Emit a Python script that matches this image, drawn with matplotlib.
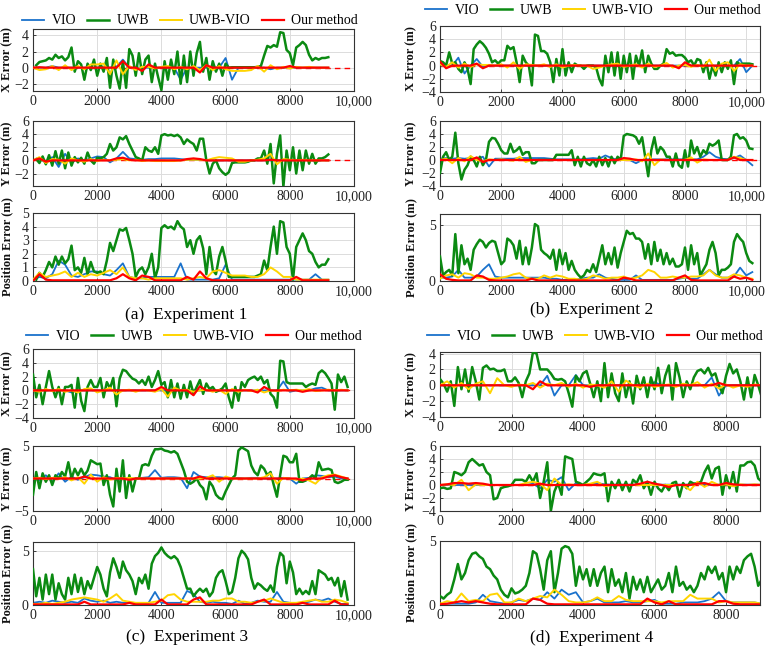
import numpy as np
import matplotlib
matplotlib.use('Agg')
import matplotlib.pyplot as plt
from matplotlib.ticker import FuncFormatter, FixedLocator

plt.rcParams['font.family'] = ['Liberation Serif', 'DejaVu Serif']
plt.rcParams['axes.unicode_minus'] = True

series_names = ['VIO', 'UWB', 'UWB-VIO', 'Our method']
series_colors = ['#1a72cc', '#0b8a12', '#ffd400', '#ff0000']
row_labels = ['X Error (m)', 'Y Error (m)', 'Position Error (m)']
captions = ['(a)  Experiment 1', '(b)  Experiment 2', '(c)  Experiment 3', '(d)  Experiment 4']
uwb_start = [100, 0, 0, 0]   # first sample of the UWB series per experiment
uwb_step = 100               # sample spacing of UWB series
other_step = 200             # sample spacing of VIO / UWB-VIO / Our method series

# ---------------- Experiment 1 ----------------
e1_x_uwb = [0.3, 0.7, 0.8, 0.9, 1.2, 1.0, 1.6, 1.2, 1.4, 0.9,
            1.3, 2.5, -0.5, 0.8, 0.4, -1.5, 0.5, -0.3, 1.0, -1.0,
            0.5, -0.5, 1.2, -2.5, 1.0, -1.0, -2.6, 0.8, -2.5, 2.3,
            1.5, -1.0, 1.8, -0.8, 1.0, 1.5, -1.8, 0.5, -1.2, -2.8,
            0.8, -1.5, 1.0, -0.8, 2.0, -2.0, 1.5, -1.8, 2.0, -1.0,
            1.8, 3.2, -0.5, 1.2, -1.5, 0.8, -0.5, 0.5, -1.0, 0.5,
            0.0, 0.05, 0.05, 0.05, 0.05, 0.05, 0.05, 0.05, 0.05, 0.1,
            0.2, 1.5, 2.7, 2.5, 2.8, 2.6, 4.4, 4.3, 2.2, 1.8,
            0.3, 2.5, 2.8, 3.2, 2.8, 1.6, 0.9, 1.2, 1.0, 1.2,
            1.2, 1.3]
e1_x_vio = [0.0, 0.0, 0.0, 0.2, 0.0, 0.0, 0.0, 0.0, 0.0, 0.0,
            0.0, 0.0, 0.0, 0.1, 1.0, 0.0, 0.0, 0.0, 0.0, 0.0,
            0.0, 0.0, 0.0, -1.5, 0.0, 0.0, 0.0, 0.0, 0.0, 0.0,
            1.2, -1.5, 0.0, 0.0, 0.0, 0.0, 0.0, -0.2, 0.0, 0.0,
            0.0, 0.0, 0.0, 0.0, 0.0, 0.0, 0.0]
e1_x_uv = [0.0, -0.3, -0.2, 0.2, -0.3, 0.3, -0.3, 0.2, -0.2, 0.4,
           0.4, 0.5, -0.8, 0.9, -0.8, 0.2, -0.3, 0.1, 0.1, -0.1,
           0.1, 0.2, -0.2, 0.1, -0.2, 0.2, -0.3, 0.3, -0.3, 0.2,
           -0.2, -0.4, -0.4, -0.4, -0.3, 0.2, -0.5, 0.3, -0.2, 0.1,
           -0.1, 0.1, 0.0, 0.1, 0.0, 0.0, 0.0]
e1_x_our = [0.0, 0.05, 0.0, 0.0, 0.0, 0.0, 0.0, 0.0, 0.0, 0.0,
            0.0, 0.0, 0.0, 0.0, 0.8, 0.0, 0.0, -0.4, 0.4, 0.0,
            0.0, 0.0, 0.0, 0.0, 0.0, 0.0, -0.6, 0.3, 0.0, 0.0,
            0.0, 0.0, 0.0, 0.0, 0.0, 0.0, 0.0, 0.0, 0.0, 0.0,
            0.2, 0.0, 0.0, 0.0, 0.0, 0.0, 0.0]
e1_y_uwb = [0.2, -0.4, 0.6, -0.6, 0.8, -0.8, 1.4, -0.5, 1.5, -1.2,
            1.2, -0.8, 0.5, -0.3, 0.4, -0.5, 1.2, 0.0, -0.5, 0.4,
            0.3, 0.5, 1.0, 2.5, 1.5, 2.0, 3.5, 3.2, 3.7, 2.5,
            1.5, 0.5, 0.3, 0.0, 2.0, 1.5, 1.3, 2.0, 1.0, 3.8,
            4.0, 3.8, 3.9, 3.7, 3.9, 3.5, 2.5, 3.2, 2.8, 2.5,
            1.5, 3.3, 3.3, 0.0, -2.0, -0.5, 0.0, -1.2, -1.8, -2.2,
            -1.8, -0.4, -0.3, -0.3, -0.3, -0.3, -0.2, 0.0, 0.0, 0.3,
            0.3, 1.5, -0.5, 2.5, -3.5, 1.0, 3.8, -4.0, 1.5, -1.5,
            2.0, -2.0, 1.5, -1.5, 1.5, -0.5, 1.0, -0.5, 0.3, 0.3,
            0.5, 0.9]
e1_y_vio = [0.0, 0.2, -0.3, 0.5, -1.0, 1.0, -0.4, 0.3, 0.0, 0.3,
            0.6, 0.5, -0.3, 0.3, 1.3, 0.3, 0.2, 0.1, 0.2, 0.2,
            0.3, 0.3, 0.3, 0.2, 0.1, 0.1, 0.1, 0.0, 0.0, 0.0,
            0.0, 0.0, 0.0, 0.0, 0.0, 0.0, 0.0, 0.0, 0.0, 0.0,
            0.0, 0.0, 0.0, 0.1, -0.2, 0.0, 0.0]
e1_y_uv = [0.0, 0.5, -0.4, 0.2, 0.1, -0.5, 0.3, 0.0, -0.2, 0.2,
           -0.1, 0.1, 0.0, 0.1, 0.2, 0.0, 0.1, -0.1, 0.0, -0.1,
           -0.1, -0.1, -0.1, 0.0, 0.1, 0.1, 0.1, 0.0, 0.3, 0.5,
           0.4, 0.3, -0.2, -0.2, 0.0, 0.1, 0.3, 1.0, -0.6, 0.2,
           0.1, 0.0, 0.1, 0.0, 0.0, 0.0, 0.0]
e1_y_our = [0.0, 0.3, -0.2, 0.0, 0.0, 0.0, 0.0, 0.0, 0.0, 0.0,
            0.0, 0.0, 0.0, 0.3, 0.4, 0.1, 0.0, 0.0, 0.0, 0.0,
            0.0, 0.0, 0.0, 0.0, 0.2, 0.3, 0.2, 0.0, 0.0, 0.0,
            0.0, 0.0, 0.0, 0.0, 0.0, 0.0, 0.0, 0.1, 0.0, 0.0,
            0.0, 0.0, 0.0, 0.0, 0.0, 0.0, 0.0]
e1_p_uwb = [0.1, 0.6, 0.3, 0.8, 1.4, 1.0, 1.8, 1.2, 1.8, 1.3,
            1.6, 2.6, 0.8, 1.0, 0.6, 1.7, 0.5, 1.4, 0.7, 0.6,
            0.7, 0.5, 1.5, 2.8, 2.2, 3.0, 3.8, 3.7, 3.9, 3.0,
            2.0, 0.3, 0.8, 1.0, 0.5, 1.0, 2.0, 0.2, 1.0, 3.9,
            4.1, 3.9, 4.0, 3.8, 4.4, 4.0, 3.8, 2.5, 3.0, 2.0,
            3.0, 3.3, 2.4, 0.5, 2.5, 0.8, 0.5, 1.8, 2.5, 1.5,
            0.3, 0.3, 0.3, 0.3, 0.3, 0.3, 0.3, 0.3, 0.3, 0.4,
            0.5, 1.5, 0.8, 2.5, 4.0, 2.0, 4.4, 4.3, 2.5, 2.0,
            0.1, 2.5, 3.0, 3.5, 3.0, 2.2, 2.0, 1.4, 1.0, 1.2,
            1.2, 1.6]
e1_p_vio = [0.1, 0.3, 0.2, 0.5, 1.5, 1.2, 0.4, 0.3, 0.5, 0.7,
            0.7, 0.5, 0.4, 0.8, 1.3, 0.3, 0.2, 0.2, 0.3, 0.3,
            0.3, 0.3, 0.3, 1.3, 0.1, 0.1, 0.1, 0.1, 0.1, 0.2,
            1.2, 0.1, 0.1, 0.1, 0.1, 0.1, 0.1, 0.1, 0.1, 0.1,
            0.1, 0.1, 0.1, 0.1, 0.5, 0.1, 0.1]
e1_p_uv = [0.1, 0.6, 0.3, 0.4, 0.5, 0.7, 0.3, 0.6, 0.3, 0.5,
           0.4, 0.6, 0.8, 0.5, 1.0, 0.3, 0.2, 0.2, 0.1, 0.2,
           0.2, 0.2, 0.2, 0.2, 0.1, 0.2, 0.3, 0.2, 0.7, 0.8,
           0.6, 0.4, 0.4, 0.4, 0.3, 0.3, 0.5, 1.0, 0.7, 0.3,
           0.3, 0.1, 0.1, 0.1, 0.1, 0.1, 0.1]
e1_p_our = [0.0, 0.5, 0.1, 0.05, 0.05, 0.05, 0.05, 0.05, 0.05, 0.05,
            0.05, 0.05, 0.05, 0.2, 0.5, 0.2, 0.05, 0.4, 0.3, 0.05,
            0.05, 0.05, 0.05, 0.05, 0.3, 0.1, 0.7, 0.2, 0.05, 0.05,
            0.05, 0.05, 0.05, 0.05, 0.05, 0.05, 0.05, 0.05, 0.05, 0.05,
            0.05, 0.3, 0.05, 0.05, 0.05, 0.05, 0.05]

# ---------------- Experiment 2 ----------------
e2_x_uwb = [0.7, 0.5, 0.0, 2.0, 0.3, 0.5, -0.5, -1.0, 0.5, -0.5,
            -2.8, 2.5, 3.2, 3.7, 3.3, 2.7, 1.8, 0.5, 0.8, 0.3,
            0.8, 0.8, 3.0, 2.5, 2.8, 0.5, -2.5, 1.5, 0.5, 0.0,
            -3.0, 4.7, 4.5, 2.2, 2.2, 1.8, 0.5, -2.5, 1.0, -1.5,
            2.5, -1.5, 0.5, -1.0, 0.3, 0.0, 0.0, -0.5, 0.0, 0.0,
            0.0, -0.3, -2.0, -3.0, 1.5, -1.0, 2.0, -1.5, 2.0, -2.0,
            1.5, -1.0, 1.8, -2.0, 1.5, 0.0, 2.3, -1.0, 1.5, 0.3,
            -0.5, -0.5, 0.0, 0.3, 2.5, 1.8, 2.0, 1.5, 1.6, 1.6,
            1.2, 0.5, 0.8, 0.0, 1.0, 0.8, -1.0, 0.5, -2.0, 0.0,
            -1.5, 0.5, -1.0, 0.5, -0.5, 0.8, -2.8, 0.5, 0.2, 0.3,
            0.3, 0.3, 0.2]
e2_x_vio = [0.0, 0.0, 0.0, 1.2, -1.2, 0.0, 1.0, -0.2, 0.0, 0.0,
            0.0, 0.0, 0.0, 0.0, 0.0, 0.0, 0.0, 0.0, 0.0, 0.0,
            0.0, 0.0, 0.0, 0.0, 0.0, 0.0, 0.0, 0.0, 0.0, 0.0,
            0.0, 0.0, 0.0, 0.0, 0.0, 0.0, 0.0, 0.0, 0.0, 0.0,
            0.0, 0.0, 0.0, 0.0, 0.0, 0.0, 0.0, 0.0, 0.0, 1.0,
            -1.0, 0.0]
e2_x_uv = [0.2, -0.2, 0.5, -0.3, 0.3, -0.2, 0.2, 0.1, 0.1, 0.0,
           0.2, -0.3, 0.5, -0.5, 0.2, 0.1, 0.0, 0.2, -0.2, 0.2,
           -0.3, 0.0, 0.1, 0.0, 0.0, -0.5, -0.3, 0.0, 0.2, 0.3,
           -0.2, 0.0, 0.2, -0.3, 0.3, -0.2, 0.0, 0.4, -0.3, 0.0,
           0.1, -0.2, 0.1, -0.2, 0.9, -0.8, 0.3, 0.5, -0.8, 0.2,
           0.0, 0.0]
e2_x_our = [0.6, -0.4, 0.0, 0.0, 0.0, 0.0, 0.3, -0.4, 0.0, 0.0,
            0.0, 0.0, 0.0, 0.0, 0.0, 0.0, 0.0, 0.0, 0.0, 0.0,
            0.0, 0.0, 0.0, 0.0, 0.0, 0.0, 0.0, 0.0, 0.0, 0.0,
            0.0, 0.0, 0.0, 0.0, 0.0, 0.0, 0.0, 0.0, 0.0, -0.4,
            0.5, 0.0, 0.0, 0.0, 0.0, 0.0, 0.0, 0.0, 0.0, 0.0,
            0.0, 0.0]
e2_y_uwb = [-2.0, 0.5, 1.2, 0.0, 0.5, 4.2, -0.5, -3.0, -1.5, -0.8,
            0.5, 0.0, -1.0, 0.5, -0.8, 0.0, 2.8, 3.4, 3.3, 2.5,
            1.5, 1.0, 1.0, 2.5, 1.2, 1.5, 2.0, 0.8, 1.2, 1.2,
            -0.5, -0.5, 0.0, 0.0, 0.0, 0.0, 0.0, 0.0, 0.8, 0.8,
            0.8, 0.8, 0.8, 1.5, -0.8, 0.5, -1.0, 0.5, -0.5, -0.8,
            0.0, -1.0, 0.5, -0.8, 0.3, -1.0, 0.5, -0.5, 0.5, 0.0,
            3.7, 4.0, 3.9, 3.8, 3.5, 2.5, 3.5, 0.5, -2.5, 1.5,
            3.5, 1.0, 2.0, 1.5, 0.5, 0.5, -1.0, 1.0, -0.8, -1.2,
            1.5, -1.0, 3.0, 1.0, 2.0, 0.5, 1.5, 1.0, 2.5, 2.2,
            2.5, 3.0, 0.0, 0.0, 0.0, 0.5, 3.8, 4.0, 3.3, 3.5,
            3.0, 1.8, 1.7]
e2_y_vio = [0.2, 0.3, 0.2, 0.3, 0.2, 0.3, 0.2, 0.5, -1.0, 0.2,
            0.2, 0.2, 0.2, 0.3, 0.3, 0.3, 0.3, 0.3, 0.2, 0.1,
            0.1, 0.1, 0.1, 0.1, 0.2, 0.3, 0.2, 0.7, 0.3, 0.0,
            0.0, 0.0, -0.5, 0.0, 0.1, 0.1, 0.1, 0.1, 0.1, 0.1,
            0.1, 0.1, 0.1, 0.5, 1.2, 0.5, 0.2, 0.1, 0.3, 0.7,
            0.0, -0.8]
e2_y_uv = [0.0, 0.2, -0.5, 0.3, -0.2, 0.6, 0.0, -0.2, 0.1, 0.0,
           0.1, 0.0, -0.1, 0.5, -0.3, 0.0, 0.0, 0.0, 0.0, 0.0,
           0.0, 0.0, 0.0, 0.0, 0.0, 0.0, 0.0, 0.0, 0.0, 0.0,
           0.0, 0.0, 0.1, -0.2, 1.0, -0.8, 0.1, 0.0, 0.0, 0.0,
           0.0, 0.4, -0.4, 0.1, 0.0, 0.0, 0.0, 0.0, 0.5, 0.3,
           0.0, 0.0]
e2_y_our = [0.0, 0.0, 0.0, 0.0, 0.0, 0.0, 0.4, -0.3, 0.0, 0.0,
            0.0, 0.0, 0.0, 0.0, 0.0, 0.0, 0.0, 0.0, 0.0, 0.0,
            0.0, 0.0, 0.0, 0.0, 0.0, 0.0, 0.0, 0.0, 0.0, 0.0,
            0.3, 0.2, 0.0, 0.0, 0.0, 0.0, 0.0, 0.0, 0.0, 0.0,
            0.0, 0.0, 0.0, 0.0, 0.0, 0.0, 0.0, 0.0, 0.4, 0.0,
            0.0, 0.0]
e2_p_uwb = [2.2, 0.5, 0.8, 1.0, 0.5, 4.2, 0.7, 3.2, 1.5, 2.0,
            1.0, 2.8, 3.3, 3.7, 3.5, 3.0, 3.4, 3.6, 3.5, 2.5,
            1.5, 1.8, 3.8, 3.6, 3.2, 2.0, 3.6, 1.5, 3.0, 1.5,
            3.0, 5.1, 4.9, 2.8, 2.5, 2.3, 2.0, 2.8, 1.0, 2.8,
            1.5, 2.5, 1.0, 1.8, 1.0, 0.6, 0.3, 0.5, 1.0, 0.8,
            1.5, 0.8, 2.0, 3.2, 1.5, 2.5, 1.5, 3.0, 1.2, 2.5,
            3.5, 4.5, 4.2, 4.3, 3.8, 3.8, 3.5, 2.0, 3.3, 1.5,
            3.5, 1.8, 2.8, 1.5, 2.5, 1.5, 2.0, 1.3, 1.3, 1.5,
            3.0, 1.0, 3.2, 1.5, 2.5, 0.5, 1.0, 1.5, 2.8, 3.5,
            2.5, 0.5, 1.0, 1.0, 1.2, 1.5, 3.5, 4.2, 3.8, 3.5,
            2.5, 1.8, 1.6]
e2_p_vio = [0.3, 0.3, 0.4, 1.0, 0.3, 0.3, 0.4, 1.0, 1.5, 0.4,
            0.3, 0.3, 0.3, 0.3, 0.3, 0.3, 0.3, 0.3, 0.2, 0.2,
            0.1, 0.1, 0.1, 0.2, 0.3, 0.3, 0.6, 0.3, 0.2, 0.1,
            0.1, 0.1, 0.5, 0.1, 0.1, 0.1, 0.1, 0.1, 0.1, 0.2,
            0.3, 0.2, 0.2, 0.6, 1.0, 0.6, 0.3, 0.3, 0.4, 1.2,
            0.5, 0.8]
e2_p_uv = [0.2, 0.5, 0.6, 0.3, 0.7, 0.6, 0.3, 0.3, 0.2, 0.2,
           0.3, 0.4, 0.6, 0.7, 0.3, 0.2, 0.2, 0.5, 0.3, 0.5,
           0.4, 0.2, 0.2, 0.1, 0.2, 0.5, 0.4, 0.2, 0.3, 0.3,
           0.4, 0.2, 0.3, 0.5, 1.0, 0.8, 0.3, 0.3, 0.4, 0.3,
           0.3, 0.4, 0.4, 0.5, 1.0, 0.5, 0.3, 0.3, 0.6, 0.5,
           0.3, 0.2]
e2_p_our = [0.6, 0.2, 0.1, 0.05, 0.05, 0.05, 0.5, 0.4, 0.1, 0.05,
            0.05, 0.05, 0.05, 0.05, 0.05, 0.2, 0.05, 0.05, 0.05, 0.05,
            0.05, 0.05, 0.05, 0.05, 0.05, 0.05, 0.05, 0.05, 0.05, 0.05,
            0.3, 0.2, 0.05, 0.05, 0.05, 0.05, 0.05, 0.05, 0.05, 0.3,
            0.5, 0.1, 0.05, 0.05, 0.05, 0.05, 0.05, 0.05, 0.4, 0.2,
            0.3, 0.1]

# ---------------- Experiment 3 ----------------
e3_x_uwb = [2.3, -1.0, 0.8, -2.0, 0.5, 2.8, 0.5, -1.0, 0.5, -2.0,
            0.5, 0.5, 0.8, -2.5, 1.8, -1.5, -3.0, 0.5, 1.5, 0.5,
            0.5, 1.8, -1.0, 1.2, 0.3, 1.8, -2.3, 1.7, 3.0, 2.8,
            2.2, 1.7, 1.5, 1.0, 1.5, 0.8, 2.0, 0.5, 1.5, 2.8,
            0.8, 1.2, -1.0, 1.5, -1.0, 1.0, -1.2, 0.8, -1.0, 1.3,
            -0.5, 0.5, 1.5, -0.5, 1.0, 0.2, 0.5, -0.2, 0.0, 0.3,
            1.0, -1.0, -2.5, 0.5, -1.5, 1.2, 0.5, 1.5, 1.8, 2.0,
            1.5, 2.0, 1.0, 1.5, -0.5, -1.0, -2.5, 4.3, 4.2, 1.2,
            1.0, 1.0, 1.0, 1.0, 1.0, 0.5, 0.8, 1.0, 0.8, 2.5,
            2.9, 2.5, 1.8, 1.0, -2.8, 2.3, 1.2, 2.0, 0.5]
e3_x_vio = [0.0, 0.0, 0.0, 0.0, 0.0, 0.0, -0.3, 0.0, 0.0, 0.0,
            0.0, 0.0, 0.0, 0.0, 0.0, 0.0, 0.0, 0.0, 0.0, 0.0,
            0.0, 0.0, 0.0, 0.0, 0.0, 0.0, 0.0, 0.0, 0.0, 0.0,
            0.0, 0.0, 0.0, 0.0, 0.0, 0.0, 0.0, 0.0, 0.0, 1.3,
            -0.2, 0.0, 0.0, 0.0, 0.3, 0.4, 0.0, 0.0, 0.0, 0.0]
e3_x_uv = [0.0, -0.2, 0.2, -0.1, 0.2, -0.2, 0.0, -0.3, 0.2, 0.3,
           -0.3, 0.0, 0.4, -0.6, 0.0, 0.1, -0.2, 0.1, 0.0, -0.2,
           0.2, -0.9, 0.4, 0.0, 0.1, -0.2, 0.0, 0.1, -0.2, 0.1,
           -0.5, 0.2, -0.2, 0.1, -0.1, 0.1, -0.3, 0.0, -0.1, 0.1,
           0.0, 0.1, 0.0, 0.2, -0.1, 0.0, 0.1, 0.0, 0.1, 0.0]
e3_x_our = [0.0, 0.0, 0.0, 0.0, 0.0, 0.0, 0.0, 0.0, 0.0, 0.0,
            0.0, 0.0, 0.0, 0.0, 0.0, 0.0, 0.0, 0.0, 0.0, 0.0,
            0.5, 0.0, 0.0, 0.0, 0.0, -0.7, 0.6, 0.0, 0.0, 0.0,
            0.0, 0.0, 0.0, 0.0, 0.0, -0.3, 0.5, 0.0, 0.0, 0.0,
            0.0, 0.0, -0.2, 0.0, 0.0, 0.0, 0.0, 0.0, 0.0, 0.0]
e3_y_uwb = [-2.5, 1.0, -1.5, 0.8, -0.5, 0.5, -1.0, 0.5, 0.0, 1.0,
            0.3, 2.5, 0.0, 1.5, 0.5, 1.5, 0.5, 1.2, 2.8, 2.5,
            2.2, 2.3, -1.0, 0.5, -2.5, -4.3, 1.5, -2.0, 2.8, -3.0,
            0.5, -2.0, 0.0, 0.0, 2.0, 2.2, 2.0, 3.5, 4.5, 4.5,
            4.6, 4.3, 4.2, 4.0, 4.2, 3.8, 2.5, 1.2, -0.5, -0.8,
            -0.5, 0.0, -1.0, -1.5, -3.2, -0.5, -1.2, -2.5, -3.0, -3.2,
            -2.0, -1.0, 0.0, 0.5, 4.3, 4.8, 4.5, 4.2, 2.0, 1.0,
            0.5, 2.0, 1.5, 0.5, 1.0, -1.0, -2.8, 0.5, 3.5, 3.3,
            2.5, 2.5, 3.8, -0.5, -0.5, -0.3, 0.0, 0.5, 0.0, 2.5,
            1.3, 1.4, 1.5, 1.3, -0.5, -0.7, -0.5, -0.2, -0.2]
e3_y_vio = [0.2, -0.3, 0.5, -0.5, 0.8, -0.5, 0.3, -0.2, 0.2, 0.6,
            0.5, 0.3, 0.2, -0.2, 0.0, 0.0, 0.0, 0.1, 0.2, 1.3,
            0.1, 0.2, 0.2, 0.1, -1.5, 1.0, 0.3, 0.2, 0.2, 0.2,
            0.1, 0.0, 0.1, 0.0, 0.1, 0.1, 0.0, 0.0, 0.0, 0.1,
            0.0, -0.8, 0.0, 0.1, 0.5, 0.4, 0.2, 0.3, 0.0, 0.0]
e3_y_uv = [0.0, 0.1, -0.1, 0.1, 0.0, 0.2, -0.3, 0.2, -0.8, 0.6,
           -0.5, 0.2, -0.2, 0.1, 0.0, 0.1, 0.0, 0.0, 0.0, 0.0,
           0.0, 0.0, 0.0, 0.0, 0.0, 0.0, 0.0, 0.1, 0.5, -0.5,
           0.3, 0.0, 0.0, 0.0, 0.0, 0.0, 0.2, 0.8, -0.8, 0.1,
           0.0, -0.2, 0.0, -0.3, -0.8, 0.2, 0.5, 0.6, 0.3, 0.0]
e3_y_our = [0.0, 0.0, 0.0, 0.0, 0.0, 0.0, 0.0, 0.0, 0.3, 0.0,
            0.0, 0.0, 0.0, 0.0, 0.0, -0.2, 0.0, 0.0, 0.0, 0.0,
            0.0, 0.0, 0.0, 0.0, 0.0, 0.0, 0.3, 0.0, 0.0, 0.0,
            0.0, 0.0, 0.0, 0.0, 0.0, 0.0, 0.0, 0.0, 0.0, 0.0,
            0.0, 0.0, -0.3, 0.0, 0.0, 0.0, 0.3, 0.5, 0.2, 0.0]
e3_p_uwb = [3.3, 0.8, 2.5, 0.5, 2.8, 1.0, 2.8, 0.5, 2.0, 1.0,
            0.5, 2.5, 1.0, 2.8, 1.2, 2.5, 1.0, 2.2, 1.5, 2.5,
            3.5, 2.8, 1.5, 0.8, 3.0, 4.3, 3.5, 2.5, 4.0, 3.2,
            2.8, 2.2, 1.0, 2.5, 2.0, 2.8, 1.5, 3.8, 4.5, 4.8,
            5.3, 4.8, 4.5, 4.3, 4.5, 4.2, 3.5, 2.5, 1.5, 1.5,
            0.8, 1.2, 1.5, 1.2, 1.5, 0.8, 1.2, 2.5, 3.0, 3.2,
            2.2, 1.0, 1.2, 2.5, 4.3, 5.0, 4.7, 4.2, 2.5, 1.5,
            2.0, 1.8, 1.5, 1.3, 1.8, 1.2, 3.5, 4.8, 4.5, 2.0,
            4.0, 3.0, 1.0, 1.5, 1.0, 1.3, 1.0, 2.2, 1.0, 3.2,
            3.0, 2.8, 2.3, 2.5, 1.8, 2.5, 0.8, 2.2, 0.5]
e3_p_vio = [0.2, 0.3, 0.2, 0.4, 0.3, 0.2, 0.3, 0.2, 0.6, 0.4,
            0.3, 0.4, 0.2, 0.3, 0.2, 0.2, 0.1, 0.1, 0.2, 1.2,
            0.2, 0.2, 0.2, 0.2, 1.3, 1.0, 0.3, 0.2, 0.3, 0.2,
            0.2, 0.1, 0.4, 0.1, 0.2, 0.4, 0.3, 0.3, 1.2, 0.3,
            0.2, 0.1, 0.2, 0.3, 0.5, 0.4, 0.6, 0.3, 0.1, 0.1]
e3_p_uv = [0.1, 0.1, 0.2, 0.1, 0.2, 0.3, 0.5, 0.6, 0.7, 0.6,
           0.5, 0.3, 0.6, 1.0, 0.4, 0.3, 0.2, 0.2, 0.2, 0.3,
           0.4, 0.9, 1.0, 0.5, 0.3, 0.3, 0.3, 0.3, 0.4, 0.4,
           0.6, 0.6, 0.3, 0.3, 0.2, 0.3, 0.4, 0.6, 0.4, 0.2,
           0.2, 0.2, 0.3, 0.4, 0.5, 0.3, 0.3, 0.5, 0.4, 0.2]
e3_p_our = [0.05, 0.05, 0.05, 0.05, 0.05, 0.05, 0.05, 0.05, 0.3, 0.05,
            0.05, 0.05, 0.05, 0.05, 0.05, 0.2, 0.05, 0.05, 0.05, 0.05,
            0.5, 0.05, 0.05, 0.05, 0.05, 0.5, 0.7, 0.05, 0.05, 0.05,
            0.05, 0.05, 0.05, 0.05, 0.05, 0.3, 0.5, 0.05, 0.05, 0.05,
            0.05, 0.05, 0.2, 0.05, 0.05, 0.05, 0.05, 0.4, 0.05, 0.05]

# ---------------- Experiment 4 ----------------
e4_x_uwb = [0.8, 0.2, -0.8, 0.5, -2.6, 2.3, -0.5, 2.0, -0.8, 2.3,
            0.5, -1.8, 2.2, 2.5, 2.0, 2.1, 1.8, 1.8, 2.0, 0.5,
            0.5, 1.0, 0.3, -1.5, 0.5, 1.5, 4.2, 4.0, 2.0, 2.0,
            2.0, 1.5, 0.8, 0.7, 0.8, 0.5, -1.0, -2.7, 1.2, 0.5,
            1.5, 1.8, 0.2, -1.5, 0.5, -2.0, 2.8, -1.5, 1.5, -1.0,
            -2.0, 1.5, -1.5, 0.5, -2.3, 1.2, -0.5, 1.0, -1.5, 1.0,
            -0.5, 2.2, -1.0, 1.2, 2.5, -1.8, 2.8, 1.0, -1.5, 0.5,
            -0.5, 1.0, 1.8, 2.0, 1.5, 2.2, 1.2, 1.5, 0.0, -1.0,
            1.2, 2.7, 1.5, 2.0, 0.5, -1.8, 1.0, -1.5, 1.3, 0.0,
            -1.5]
e4_x_vio = [0.0, 0.0, 0.0, 0.0, 0.0, 0.0, 0.0, 0.0, 0.0, 0.0,
            0.0, 0.0, 0.0, 0.0, 0.0, 1.2, -1.3, 0.0, 0.0, 1.3,
            0.0, 0.0, 0.0, 0.0, 0.0, 0.0, 0.0, 0.0, 0.0, 0.0,
            0.4, 0.0, 0.0, 0.0, 0.0, 0.0, 0.0, 0.0, 1.0, -1.3,
            0.0, 0.0, 0.0, 0.0, 0.0, 0.0]
e4_x_uv = [0.0, 0.5, -0.3, 0.3, -0.5, 0.2, 0.5, -1.0, 0.9, 0.0,
           -0.2, 0.1, 0.0, 0.3, -0.3, 0.2, 0.0, 0.3, -0.2, 0.2,
           -0.3, 0.1, 0.0, -0.3, 0.5, -0.8, 0.6, 0.0, -0.3, 0.2,
           -0.2, 0.0, 0.1, -0.2, 0.2, 0.0, 0.4, -0.3, 0.2, -0.4,
           0.1, -0.3, 0.0, -0.2, 0.1, 0.0]
e4_x_our = [0.0, 0.0, 0.0, 0.0, 0.0, 0.0, 0.0, 0.0, 0.0, 0.0,
            0.0, 0.0, 0.0, -0.5, 0.5, 0.0, 0.0, 0.0, 0.0, 0.0,
            0.0, -0.2, 0.0, 0.0, 0.0, 0.0, 0.0, 0.0, 0.0, 0.0,
            0.0, 0.0, 0.0, 0.0, 0.0, 0.0, 0.0, 0.0, 0.0, 0.3,
            0.0, 0.0, 0.0, 0.0, 0.0, 0.0]
e4_y_uwb = [-0.5, -0.4, -0.6, -0.5, 2.0, 1.8, 1.5, 2.0, 3.5, 4.0,
            3.5, 3.0, 3.2, 2.0, 1.5, -2.2, -2.0, -0.5, -0.3, -0.2,
            0.0, 0.8, 0.8, 0.8, 0.5, 1.5, 0.5, 1.8, -2.0, 0.5,
            3.5, -4.0, -1.0, 0.3, -1.5, 4.4, 4.2, 4.0, 0.5, 0.3,
            0.0, 0.5, 1.0, 1.8, 1.6, 1.5, 1.8, -2.5, 0.5, -0.5,
            0.8, -0.8, 0.5, -1.0, 0.8, 0.3, 1.5, -0.5, 0.5, -1.5,
            0.5, -0.5, -1.0, 0.0, -0.8, 0.3, 0.5, -1.8, 0.3, -0.5,
            0.5, 0.2, 0.3, 0.5, 2.0, 3.0, 1.0, 2.5, 2.8, -1.5,
            1.5, -0.5, 2.0, -1.0, 3.0, 3.0, 3.5, 3.6, 3.0, 1.0,
            0.5]
e4_y_vio = [0.0, 0.0, 0.0, 0.0, 0.0, 0.0, 0.0, 0.0, 0.0, 0.0,
            0.0, 0.0, 0.0, 0.2, -0.5, 0.8, 0.5, 1.2, -0.8, 0.3,
            0.0, 0.1, 0.3, 0.1, 0.05, 0.05, 0.05, 0.05, 0.05, 0.05,
            0.05, 0.05, 0.05, 0.05, 0.05, 0.05, 0.3, 0.05, 0.05, 0.05,
            0.05, 0.05, 0.05, 0.05, 0.05, 0.05]
e4_y_uv = [0.0, 0.1, 0.0, 0.8, -0.8, 0.1, 0.0, 0.0, 0.0, 0.0,
           0.0, 0.0, 0.3, 0.5, 0.2, -0.8, 1.0, 0.0, 0.1, 0.0,
           0.0, 0.2, 0.5, -0.2, 0.0, 0.0, 0.0, 0.0, 0.0, 0.0,
           0.0, 0.0, 0.0, 0.0, 0.0, -0.8, 0.5, -0.3, 0.5, 0.0,
           0.1, -0.2, 0.1, 0.0, 0.1, 0.0]
e4_y_our = [0.0, 0.1, 0.3, 0.3, 0.2, 0.3, 0.2, 0.0, 0.0, 0.0,
            0.0, 0.0, 0.0, 0.0, 0.2, 0.0, 0.0, 0.0, 0.0, 0.0,
            0.0, 0.0, 0.0, 0.0, 0.0, 0.0, 0.0, 0.0, 0.2, 0.5,
            0.2, 0.0, -0.3, 0.0, 0.0, 0.0, 0.2, 0.3, 0.0, 0.0,
            0.3, 0.1, 0.0, 0.0, 0.0, 0.0]
e4_p_uwb = [0.7, 0.5, 0.8, 1.0, 2.0, 3.2, 2.0, 2.5, 3.5, 4.0,
            4.1, 3.8, 3.6, 3.0, 2.8, 2.3, 2.0, 1.2, 0.8, 0.6,
            1.3, 0.9, 1.0, 1.2, 1.5, 2.5, 4.2, 4.0, 2.8, 1.2,
            3.5, 4.2, 1.0, 2.5, 4.4, 4.6, 4.5, 4.0, 1.5, 3.0,
            2.0, 2.8, 1.5, 2.8, 1.5, 2.5, 3.0, 1.0, 2.8, 1.5,
            2.0, 1.0, 2.5, 0.5, 2.2, 1.2, 2.0, 1.0, 2.2, 1.0,
            1.5, 2.0, 1.2, 1.5, 2.5, 1.0, 3.0, 1.5, 1.8, 1.2,
            1.5, 1.0, 1.5, 2.5, 2.0, 3.0, 2.5, 3.0, 2.0, 2.5,
            1.0, 3.0, 2.0, 3.0, 2.5, 3.5, 3.8, 4.0, 3.0, 1.5,
            2.0]
e4_p_vio = [0.1, 0.1, 0.1, 0.1, 0.1, 0.2, 0.8, 0.3, 0.2, 0.1,
            0.2, 0.4, 0.3, 0.5, 0.4, 1.0, 0.5, 1.2, 0.8, 1.0,
            0.2, 0.3, 0.5, 0.2, 0.2, 0.2, 0.3, 0.2, 0.2, 0.3,
            0.4, 0.1, 0.1, 0.1, 0.2, 0.2, 0.2, 0.3, 0.5, 1.0,
            0.3, 0.2, 0.2, 0.2, 0.2, 0.1]
e4_p_uv = [0.1, 0.3, 0.2, 0.9, 0.3, 0.4, 0.3, 0.8, 0.9, 0.2,
           0.2, 0.5, 0.3, 0.5, 0.7, 0.6, 1.2, 0.8, 0.3, 0.2,
           0.2, 0.3, 0.6, 0.3, 0.3, 0.7, 0.4, 0.3, 0.3, 0.3,
           0.3, 0.2, 0.3, 0.3, 0.3, 0.8, 0.5, 0.5, 0.5, 0.2,
           0.3, 0.2, 0.2, 0.2, 0.2, 0.1]
e4_p_our = [0.05, 0.1, 0.2, 0.3, 0.2, 0.3, 0.2, 0.1, 0.05, 0.05,
            0.05, 0.05, 0.05, 0.5, 0.4, 0.1, 0.05, 0.05, 0.05, 0.05,
            0.05, 0.05, 0.05, 0.05, 0.05, 0.05, 0.05, 0.05, 0.05, 0.5,
            0.2, 0.05, 0.3, 0.05, 0.05, 0.05, 0.05, 0.05, 0.05, 0.3,
            0.3, 0.1, 0.05, 0.05, 0.05, 0.05]

panels = [
    [(e1_x_vio, e1_x_uwb, e1_x_uv, e1_x_our),
     (e1_y_vio, e1_y_uwb, e1_y_uv, e1_y_our),
     (e1_p_vio, e1_p_uwb, e1_p_uv, e1_p_our)],
    [(e2_x_vio, e2_x_uwb, e2_x_uv, e2_x_our),
     (e2_y_vio, e2_y_uwb, e2_y_uv, e2_y_our),
     (e2_p_vio, e2_p_uwb, e2_p_uv, e2_p_our)],
    [(e3_x_vio, e3_x_uwb, e3_x_uv, e3_x_our),
     (e3_y_vio, e3_y_uwb, e3_y_uv, e3_y_our),
     (e3_p_vio, e3_p_uwb, e3_p_uv, e3_p_our)],
    [(e4_x_vio, e4_x_uwb, e4_x_uv, e4_x_our),
     (e4_y_vio, e4_y_uwb, e4_y_uv, e4_y_our),
     (e4_p_vio, e4_p_uwb, e4_p_uv, e4_p_our)],
]

# ---------------- layout (pixels) ----------------
W, H = 768, 656
fig = plt.figure(figsize=(W / 100, H / 100), dpi=100)

col_lr = [(33, 354), (440, 760), (33, 354), (440, 760)]
rows_tb = [
    [(29, 91), (121, 186), (213, 281)],
    [(26, 92), (121, 186), (214, 281)],
    [(349, 418), (446, 511), (542, 605)],
    [(352, 417), (446, 511), (541, 605)],
]
xlims = [(0, 10000), (0, 10450), (0, 10000), (0, 8950)]
ylims = [
    [(-2.9, 4.8), (-3.9, 6), (0, 5)],
    [(-4, 6), (-4, 6), (0, 6)],
    [(-4, 6), (-5, 5), (0, 5.8)],
    [(-4, 4.2), (-4, 6), (0, 5)],
]
yticks = [
    [[-2, 0, 2, 4], [-2, 0, 2, 4, 6], [0, 1, 2, 3, 4, 5]],
    [[-4, -2, 0, 2, 4, 6], [-4, -2, 0, 2, 4, 6], [0, 5]],
    [[-4, -2, 0, 2, 4, 6], [-5, 0, 5], [0, 5]],
    [[-4, -2, 0, 2, 4], [-4, -2, 0, 2, 4, 6], [0, 5]],
]
xticks_all = [0, 2000, 4000, 6000, 8000, 10000]
legend_pos = [(190, 21), (593, 10), (194, 336), (595, 336)]
caption_pos = [(186, 315), (592, 310), (187, 637), (592, 638)]
lws = [1.3, 1.8, 1.4, 1.6]

xfmt = FuncFormatter(lambda v, p: f"{int(v):,}" if v >= 10000 else f"{int(v)}")

for e in range(4):
    l, r = col_lr[e]
    for k in range(3):
        t, b = rows_tb[e][k]
        ax = fig.add_axes([l / W, 1 - b / H, (r - l) / W, (b - t) / H])
        handles = []
        for s in range(4):
            vals = panels[e][k][s]
            if s == 1:
                tt = uwb_start[e] + uwb_step * np.arange(len(vals))
            else:
                tt = other_step * np.arange(len(vals))
            h, = ax.plot(tt, vals, color=series_colors[s], lw=lws[s],
                         label=series_names[s], zorder=2 + s)
            handles.append(h)
        if k < 2:
            ax.axhline(0, color='#ff0000', lw=1.0, ls=(0, (4, 3)), zorder=1.5)
        ax.set_xlim(*xlims[e])
        ax.set_ylim(*ylims[e][k])
        ax.xaxis.set_major_locator(FixedLocator([v for v in xticks_all if v <= xlims[e][1]]))
        ax.xaxis.set_major_formatter(xfmt)
        ax.set_yticks(yticks[e][k])
        ax.grid(True, color='#dcdcdc', lw=0.7, zorder=0)
        ax.set_axisbelow(True)
        for sp in ax.spines.values():
            sp.set_color('#333333')
            sp.set_linewidth(0.8)
        ax.tick_params(direction='in', length=2.5, width=0.6, labelsize=10,
                       colors='#222222', pad=3)
        ax.set_ylabel(row_labels[k], fontsize=9, fontweight='bold', color='#111111')
        ax.yaxis.set_label_coords(-0.062 if e % 2 == 0 else -0.07, 0.5)
        if k == 0:
            lx, ly = legend_pos[e]
            ax.legend(handles=handles, loc='center', ncol=4, frameon=False,
                      bbox_to_anchor=(lx / W, 1 - ly / H),
                      bbox_transform=fig.transFigure, fontsize=10,
                      handlelength=1.6, handletextpad=0.5, columnspacing=0.8,
                      borderpad=0.1)
    cx, cy = caption_pos[e]
    fig.text(cx / W, 1 - cy / H, captions[e], ha='center', va='center', fontsize=12.5)

fig.savefig('out.png', dpi=100)
